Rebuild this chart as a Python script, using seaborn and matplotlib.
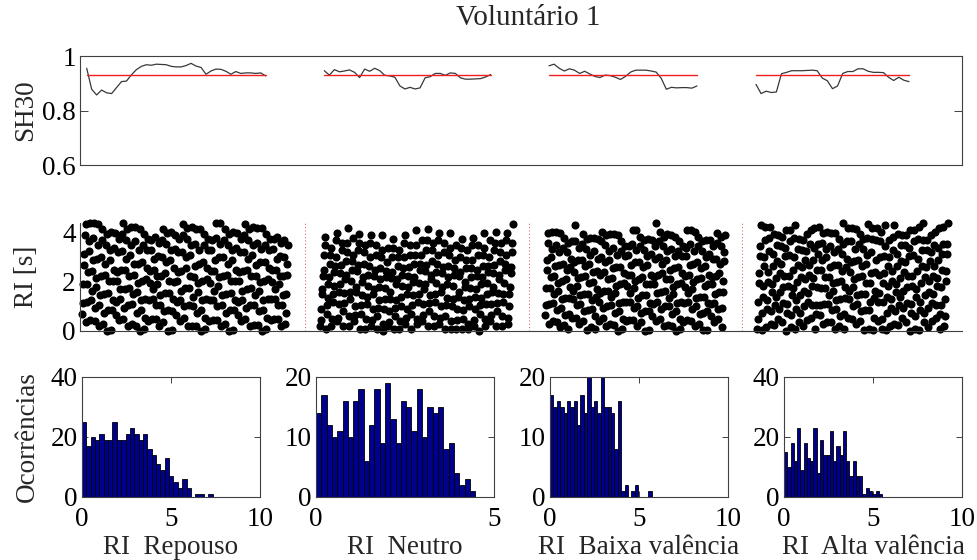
import numpy as np
import pandas as pd
import matplotlib
matplotlib.use("Agg")
import matplotlib.pyplot as plt
import seaborn as sns

sns.set_theme(style="white")
plt.rcParams['font.family'] = ['Liberation Serif', 'DejaVu Serif']

# ---------------- data ----------------
title = "Voluntário 1"
conditions = ["Repouso", "Neutro", "Baixa valência", "Alta valência"]

# SH30 curves (one per condition) and reference levels (red lines)
sh30_repouso = [0.955, 0.878, 0.857, 0.875, 0.865, 0.862, 0.884, 0.906, 0.908, 0.931,
                0.950, 0.962, 0.968, 0.966, 0.970, 0.969, 0.968, 0.962, 0.960, 0.960,
                0.965, 0.973, 0.963, 0.958, 0.933, 0.945, 0.952, 0.951, 0.944, 0.933,
                0.943, 0.936, 0.938, 0.938, 0.936, 0.938, 0.927]
sh30_neutro = [0.946, 0.930, 0.950, 0.942, 0.945, 0.949, 0.940, 0.921, 0.952, 0.944,
               0.955, 0.946, 0.929, 0.927, 0.922, 0.890, 0.879, 0.885, 0.879, 0.883,
               0.920, 0.924, 0.936, 0.936, 0.929, 0.938, 0.936, 0.920, 0.915, 0.915,
               0.916, 0.917, 0.923, 0.932]
sh30_baixa = [0.964, 0.970, 0.955, 0.945, 0.953, 0.948, 0.936, 0.944, 0.934, 0.925,
              0.921, 0.930, 0.928, 0.922, 0.914, 0.925, 0.941, 0.948, 0.948, 0.948,
              0.945, 0.941, 0.918, 0.878, 0.885, 0.883, 0.884, 0.884, 0.882, 0.890]
sh30_alta = [0.896, 0.862, 0.871, 0.866, 0.868, 0.935, 0.940, 0.946, 0.946, 0.946,
             0.947, 0.948, 0.946, 0.919, 0.909, 0.880, 0.890, 0.936, 0.943, 0.943,
             0.953, 0.953, 0.944, 0.940, 0.940, 0.939, 0.922, 0.910, 0.922, 0.911,
             0.906]
sh30_ref = [0.93, 0.93, 0.93, 0.93]

# RI series [s] (points visible in the middle panel)
ri_repouso = [
    0.7,1.15,1.9,2.7,3.15,3.9,4.35, 0.35,1.2,1.9,2.4,3.25,3.65,4.4, 0.45,1.25,1.65,2.45,2.9,3.8,4.4,
    0.4,0.95,1.8,2.15,2.95,3.5,4.35, 0.2,1.05,1.45,2.25,3.0,3.7,4.15, 0.3,0.75,1.5,2.3,2.75,3.5,3.95,
    0.0,0.85,1.55,2.05,2.9,3.3,4.05, 0.05,0.85,1.25,2.05,2.5,3.4,4.0, 0.65,1.2,2.05,2.4,3.2,3.75,
    0.45,1.3,1.7,2.5,3.25,3.95,4.4, 0.5,0.95,1.7,2.5,2.95,3.7,4.15, 0.2,1.05,1.75,2.25,3.1,3.5,4.25,
    0.3,1.1,1.5,2.3,2.75,3.65,4.25, 0.2,0.75,1.6,1.95,2.75,3.3,4.15, 0.0,0.85,1.25,2.05,2.8,3.5,3.95,
    0.1,0.55,1.3,2.1,2.55,3.3,3.75, 0.4,1.25,1.95,2.45,3.3,3.7, 0.5,1.3,1.7,2.5,2.95,3.85,
    0.5,1.05,1.9,2.25,3.05,3.6, 0.2,1.05,1.45,2.25,3.0,3.7,4.15, 0.35,0.8,1.55,2.35,2.8,3.55,4.0,
    0.0,0.85,1.55,2.05,2.9,3.3,4.05, 0.05,0.8,1.3,2.0,2.55,3.35,3.9, 0.65,1.2,2.05,2.4,3.2,3.75,
    0.4,1.25,1.65,2.45,3.2,3.9,4.35, 0.55,1.0,1.75,2.55,3.0,3.75,4.2, 0.2,1.05,1.75,2.25,3.1,3.5,4.25,
    0.2,1.0,1.4,2.2,2.65,3.55,4.15, 0.2,0.75,1.6,1.95,2.75,3.3,4.15, 0.0,0.85,1.25,2.05,2.8,3.5,3.95,
    0.1,0.55,1.3,2.1,2.55,3.3,3.75, 0.4,1.25,1.95,2.45,3.3,3.7, 0.45,1.25,1.65,2.45,2.9,3.8,4.4,
    0.45,1.0,1.85,2.2,3.0,3.55,4.4, 0.2,1.05,1.45,2.25,3.0,3.7,4.15, 0.3,0.75,1.5,2.3,2.75,3.5,3.95,
    0.0,0.85,1.55,2.05,2.9,3.3,4.05, 0.05,0.85,1.25,2.05,2.5,3.4,4.0, 0.65,1.2,2.05,2.4,3.2,3.75,
    0.4,1.25,1.65,2.45,3.2,3.9,4.35, 0.5,0.95,1.7,2.5,2.95,3.7,4.15, 0.2,1.05,1.75,2.25,3.1,3.5,4.25,
    0.25,1.05,1.45,2.25,2.7,3.6,4.2, 0.25,0.8,1.65,2.0,2.8,3.35,4.2, 0.0,0.85,1.25,2.05,2.8,3.5,3.95,
    0.1,0.55,1.3,2.1,2.55,3.3,3.75, 0.45,1.3,2.0,2.5,3.35,3.75, 0.5,1.3,1.7,2.5,2.95,3.85,
    0.5,1.05,1.9,2.25,3.05,3.6, 0.2,1.05,1.45,2.25,3.0,3.7, 0.3,0.75,1.5,2.3,2.75,3.5]
ri_neutro = [
    0.2,0.45,0.9,1.5,1.7,2.25,2.5,3.1,3.5,3.85, 0.1,0.7,1.05,1.35,1.9,2.2,2.75,3.1,3.4,
    0.2,0.5,1.2,1.5,1.85,2.4,2.65,3.0,3.7,4.0, 0.4,0.55,1.1,1.6,1.9,2.35,2.7,3.3,3.6,
    0.2,0.8,1.15,1.55,2.1,2.3,2.85,3.2,3.6,4.2, 0.2,0.6,1.3,1.6,2.05,2.5,2.85,3.1,3.8,
    0.4,0.65,1.0,1.6,1.8,2.45,2.7,3.3,3.6,3.95, 0.1,0.7,1.05,1.45,2.0,2.2,2.75,3.2,3.5,
    0.1,0.5,1.1,1.4,1.85,2.3,2.65,3.0,3.6,3.9, 0.2,0.45,0.9,1.5,1.7,2.25,2.5,3.1,3.5,
    0.1,0.6,0.95,1.25,1.8,2.1,2.55,3.0,3.3,3.9, 0.0,0.3,0.9,1.3,1.75,2.2,2.45,2.8,3.4,
    0.2,0.35,0.8,1.3,1.6,2.15,2.4,3.0,3.4,3.75, 0.1,0.6,0.95,1.25,1.9,2.1,2.65,3.0,3.3,
    0.1,0.4,1.0,1.4,1.85,2.3,2.55,3.0,3.6,3.9, 0.3,0.55,0.9,1.5,1.8,2.25,2.6,3.1,3.5,
    0.1,0.7,1.05,1.45,2.0,2.2,2.75,3.1,3.5,4.1, 0.3,0.5,1.2,1.5,1.95,2.5,2.75,3.1,3.7,
    0.4,0.65,1.1,1.7,1.9,2.45,2.7,3.3,3.7,4.15, 0.2,0.8,1.15,1.45,2.1,2.3,2.85,3.3,3.6,
    0.2,0.6,1.2,1.5,1.95,2.4,2.75,3.1,3.7,4.0, 0.3,0.55,1.0,1.6,1.8,2.35,2.6,3.2,3.6,
    0.1,0.6,1.05,1.35,1.9,2.2,2.65,3.1,3.4,4.0, 0.1,0.4,1.0,1.3,1.85,2.3,2.55,2.9,3.5,
    0.1,0.45,0.9,1.4,1.6,2.25,2.4,3.0,3.4,3.75, 0.1,0.5,0.85,1.25,1.8,2.0,2.55,2.9,3.3,
    0.1,0.3,1.0,1.3,1.75,2.2,2.55,2.9,3.5,3.8, 0.2,0.45,0.9,1.4,1.7,2.25,2.5,3.1,3.5,
    0.0,0.7,1.05,1.35,1.9,2.2,2.65,3.1,3.4,4.0, 0.2,0.5,1.1,1.5,1.95,2.4,2.65,3.0,3.7,
    0.4,0.65,1.1,1.6,1.8,2.35,2.7,3.3,3.6,4.05, 0.2,0.8,1.15,1.55,2.1,2.3,2.85,3.2,3.6,
    0.2,0.6,1.2,1.5,1.95,2.5,2.75,3.1,3.7,4.0, 0.3,0.55,1.0,1.5,1.8,2.35,2.6,3.2,3.6,4.35]
ri_baixa = [
    0.65,1.05,1.75,2.5,2.9,3.6,4.0, 0.3,1.1,1.75,2.2,3.0,3.35,4.05, 0.4,1.15,1.5,2.25,2.65,3.5,4.05,
    0.35,0.85,1.65,1.95,2.7,3.2,4.0, 0.15,0.95,1.3,2.05,2.75,3.4,3.8, 0.25,0.65,1.35,2.1,2.5,3.2,3.6,
    0.1,0.7,1.35,1.8,2.6,2.95,3.65, 0.55,1.3,1.65,2.4,2.8,3.65,4.3, 0.55,1.05,1.85,2.15,2.9,3.4,
    0.3,1.1,1.45,2.2,2.9,3.55,3.95, 0.4,0.8,1.5,2.25,2.65,3.35,3.75, 0.05,0.85,1.5,1.95,2.75,3.1,3.8,
    0.15,0.9,1.25,2.0,2.4,3.25,3.8, 0.1,0.6,1.4,1.7,2.45,2.95,3.75, 0.4,1.2,1.55,2.3,3.0,3.65,4.05,
    0.55,0.95,1.65,2.4,2.8,3.5,3.9, 0.2,1.0,1.65,2.1,2.9,3.25,3.95, 0.3,1.05,1.4,2.15,2.55,3.4,3.95,
    0.25,0.75,1.55,1.85,2.6,3.1,3.9, 0.0,0.8,1.15,1.9,2.6,3.25,3.65, 0.1,0.5,1.2,1.95,2.35,3.05,3.45,
    0.4,1.2,1.85,2.3,3.1,3.45, 0.45,1.2,1.55,2.3,2.7,3.55,4.1, 0.45,0.95,1.75,2.05,2.8,3.3,4.1,
    0.2,1.0,1.35,2.1,2.8,3.45,3.85, 0.35,0.75,1.45,2.2,2.6,3.3,3.7, 0.0,0.8,1.45,1.9,2.7,3.05,3.75,
    0.05,0.8,1.15,1.9,2.3,3.15,3.7, 0.6,1.1,1.9,2.2,2.95,3.45,4.4, 0.4,1.2,1.55,2.3,3.0,3.65,4.05,
    0.5,0.9,1.6,2.35,2.75,3.45,3.85, 0.2,1.0,1.65,2.1,2.9,3.25,3.95, 0.25,1.0,1.35,2.1,2.5,3.35,3.9,
    0.2,0.7,1.5,1.8,2.55,3.05,3.85, 0.0,0.8,1.15,1.9,2.6,3.25,3.65, 0.1,0.5,1.2,1.95,2.35,3.05,3.45,
    0.35,1.15,1.8,2.25,3.05,3.4,4.1, 0.45,1.2,1.55,2.3,2.7,3.55,4.1, 0.4,0.9,1.7,2.0,2.75,3.25,4.05,
    0.2,1.0,1.35,2.1,2.8,3.45,3.85, 0.3,0.7,1.4,2.15,2.55,3.25,3.65, 0.05,0.75,1.4,1.85,2.65,3.0,3.7,
    0.05,0.8,1.15,1.9,2.3,3.15,3.7, 0.6,1.1,1.9,2.2,2.95,3.45, 0.35,1.15,1.5,2.25,2.95,3.6,4.0,
    0.5,0.9,1.6,2.35,2.75,3.45,3.85, 0.15,0.95,1.6,2.05,2.85,3.2,3.9]
ri_alta = [
    0.1,0.5,1.2,1.95,2.35,3.05,3.45,4.3, 0.05,0.75,1.4,1.85,2.65,3.0,3.7,4.25,
    0.15,0.9,1.25,2.0,2.4,3.25,3.8,4.25, 0.3,0.8,1.6,1.9,2.65,3.15,3.95,
    0.25,1.05,1.4,2.15,2.85,3.5,3.9, 0.5,0.9,1.6,2.35,2.75,3.45,3.85,
    0.35,1.15,1.8,2.25,3.05,3.4,4.1, 0.0,0.75,1.1,1.85,2.25,3.1,3.65,4.1,
    0.15,0.65,1.45,1.75,2.5,3.0,3.8,4.3, 0.1,0.9,1.25,2.0,2.7,3.35,3.75,
    0.35,0.75,1.45,2.2,2.6,3.3,3.7, 0.2,1.0,1.65,2.1,2.9,3.25,3.95,
    0.45,1.2,1.55,2.3,2.7,3.55,4.1, 0.55,1.05,1.85,2.15,2.9,3.4,4.2,
    0.1,0.7,1.05,1.8,2.5,3.15,3.55,4.25, 0.65,1.05,1.75,2.5,2.9,3.6,4.0,
    0.3,1.1,1.75,2.2,3.0,3.35,4.05, 0.35,1.1,1.45,2.2,2.6,3.45,4.0,
    0.35,0.85,1.65,1.95,2.7,3.2,4.0, 0.1,0.9,1.25,2.0,2.7,3.35,3.75,
    0.2,0.6,1.3,2.05,2.45,3.15,3.55,4.4, 0.1,0.7,1.35,1.8,2.6,2.95,3.65,4.2,
    0.55,1.3,1.65,2.4,2.8,3.65,4.2, 0.5,1.0,1.8,2.1,2.85,3.35,4.15,
    0.3,1.1,1.45,2.2,2.9,3.55,3.95, 0.4,0.8,1.5,2.25,2.65,3.35,3.75,
    0.05,0.85,1.5,1.95,2.75,3.1,3.8,4.35, 0.1,0.85,1.2,1.95,2.35,3.2,3.75,4.2,
    0.05,0.55,1.35,1.65,2.4,2.9,3.7,4.2, 0.4,1.2,1.55,2.3,3.0,3.65,4.05,
    0.1,0.5,1.2,1.95,2.35,3.05,3.45,4.3, 0.05,0.75,1.4,1.85,2.65,3.0,3.7,
    0.2,0.95,1.3,2.05,2.45,3.3,3.85,4.3, 0.3,0.8,1.6,1.9,2.65,3.15,3.95,
    0.25,1.05,1.4,2.15,2.85,3.5,3.9, 0.55,0.95,1.65,2.4,2.8,3.5,3.9,
    0.35,1.15,1.8,2.25,3.05,3.4,4.1, 0.0,0.75,1.1,1.85,2.25,3.1,3.65,4.1,
    0.1,0.6,1.4,1.7,2.45,2.95,3.75,4.25, 0.05,0.85,1.2,1.95,2.65,3.3,3.7,4.4,
    0.35,0.75,1.45,2.2,2.6,3.3,3.7, 0.15,0.95,1.6,2.05,2.85,3.2,3.9,
    0.4,1.15,1.5,2.25,2.65,3.5,4.05, 0.55,1.05,1.85,2.15,2.9,3.4,4.2,
    0.1,0.7,1.05,1.8,2.5,3.15,3.55,4.25, 0.2,0.6,1.3,2.05,2.45,3.15,3.55,4.4]

# Histogram counts (30 bins each), the RI range they cover [s] and axis ticks
hist_repouso = [25,17,20,19,21,19,19,25,19,19,21,23,21,19,21,16,14,11,9,13,7,5,3,6,3,0,1,1,0,1]
hist_neutro = [14,17,12,10,11,16,10,16,18,6,12,18,9,19,13,9,16,15,11,18,10,15,14,15,8,9,4,2,3,1]
hist_baixa = [17,15,16,15,14,16,15,16,12,17,14,20,15,16,14,20,15,15,14,8,16,1,2,0,1,2,0,0,0,1]
hist_alta = [15,10,18,12,23,9,18,13,12,23,8,19,14,14,22,12,17,14,22,12,7,12,7,7,1,3,2,1,2,1]
hist_max_ri = [7.34, 4.47, 5.71, 5.51]
hist_xticks = [[0, 5, 10], [0, 5], [0, 5, 10], [0, 5, 10]]
hist_yticks = [[0, 20, 40], [0, 10, 20], [0, 10, 20], [0, 20, 40]]

# ---------------- layout ----------------
W, H = 977, 560
fig = plt.figure(figsize=(W / 100, H / 100), dpi=100)

def fr(x0, y0, x1, y1):
    return [x0 / W, 1 - y1 / H, (x1 - x0) / W, (y1 - y0) / H]

FS = 19.5
LINE_C = "#383838"
SPINE_C = "#404040"
RED = "#f01e1e"
BAR_C = "#00008F"

sh30_series = [sh30_repouso, sh30_neutro, sh30_baixa, sh30_alta]
ri_series = [ri_repouso, ri_neutro, ri_baixa, ri_alta]
hist_series = [hist_repouso, hist_neutro, hist_baixa, hist_alta]

# horizontal spans (fraction of panel width) of each condition
top_spans = [(0.0076, 0.2105), (0.2770, 0.4656), (0.5317, 0.6995), (0.7664, 0.9399)]
sc_spans = [(0.0023, 0.2358), (0.2721, 0.4909), (0.5272, 0.7313), (0.7676, 0.9841)]
separators = [0.2551, 0.5091, 0.7506]

# ---- top panel: SH30 ----
ax1 = fig.add_axes(fr(80, 56, 962, 165))
for vals, ref, (s0, s1), cond in zip(sh30_series, sh30_ref, top_spans, conditions):
    d = pd.DataFrame({"t": np.linspace(s0, s1, len(vals)), "sh30": vals})
    sns.lineplot(data=d, x="t", y="sh30", ax=ax1, color=LINE_C, lw=0.9, estimator=None)
    r = pd.DataFrame({"t": [s0, s1], "sh30": [ref, ref]})
    sns.lineplot(data=r, x="t", y="sh30", ax=ax1, color=RED, lw=1.0, estimator=None)
ax1.set_xlim(0, 1)
ax1.set_ylim(0.6, 1.0)
ax1.set_xticks([])
ax1.set_yticks([0.6, 0.8, 1.0])
ax1.set_yticklabels(["0.6", "0.8", "1"])
ax1.set_xlabel("")
ax1.set_ylabel("SH30", fontsize=FS)
ax1.yaxis.set_label_coords(-0.047, 0.5)
ax1.tick_params(axis="y", direction="in", length=6, width=0.7, colors=SPINE_C,
                labelcolor="black", labelsize=FS, left=True, right=True, pad=3)
for sp in ax1.spines.values():
    sp.set_color(SPINE_C)
    sp.set_linewidth(0.8)

# ---- middle panel: RI scatter ----
ax2 = fig.add_axes(fr(80, 223, 962, 331))
frames = []
for vals, (s0, s1), cond in zip(ri_series, sc_spans, conditions):
    frames.append(pd.DataFrame({"t": np.linspace(s0, s1, len(vals)), "ri": vals, "cond": cond}))
sc = pd.concat(frames, ignore_index=True)
sns.scatterplot(data=sc, x="t", y="ri", ax=ax2, color="black", s=34, linewidth=0,
                legend=False, clip_on=False)
for xs in separators:
    ax2.axvline(xs, color="#e87070", lw=0.8, ls=(0, (1, 2)))
ax2.set_xlim(0, 1)
ax2.set_ylim(0, 4.4)
ax2.set_xticks([])
ax2.set_yticks([0, 2, 4])
ax2.set_yticklabels(["0", "2", "4"])
ax2.set_xlabel("")
ax2.set_ylabel("RI [s]", fontsize=FS)
ax2.yaxis.set_label_coords(-0.047, 0.5)
ax2.tick_params(axis="y", direction="in", length=6, width=0.7, colors=SPINE_C,
                labelcolor="black", labelsize=FS, pad=3)
ax2.spines["top"].set_visible(False)
ax2.spines["right"].set_visible(False)
for k in ("left", "bottom"):
    ax2.spines[k].set_color(SPINE_C)
    ax2.spines[k].set_linewidth(0.8)

# ---- bottom panels: histograms ----
hist_left = [82, 316, 550, 784]
for i, (counts, rmax, xt, yt, cond, xl) in enumerate(
        zip(hist_series, hist_max_ri, hist_xticks, hist_yticks, conditions, hist_left)):
    ax = fig.add_axes(fr(xl, 377, xl + 178, 497))
    edges = np.linspace(0, rmax, len(counts) + 1)
    hd = pd.DataFrame({"ri": (edges[:-1] + edges[1:]) / 2, "n": counts})
    sns.histplot(data=hd, x="ri", weights="n", bins=len(counts), binrange=(0, rmax),
                 ax=ax, color=BAR_C, edgecolor="black", linewidth=0.6, alpha=1.0)
    ax.set_xlim(xt[0], xt[-1])
    ax.set_ylim(yt[0], yt[-1])
    ax.set_xticks(xt)
    ax.set_xticklabels([str(v) for v in xt])
    ax.set_yticks(yt)
    ax.set_yticklabels([str(v) for v in yt])
    ax.set_xlabel("RI  " + cond, fontsize=FS)
    ax.xaxis.set_label_coords(0.5, -0.32)
    if i == 0:
        ax.set_ylabel("Ocorrências", fontsize=FS)
        ax.yaxis.set_label_coords(-0.235, 0.5)
    else:
        ax.set_ylabel("")
    ax.tick_params(direction="in", length=4, width=0.7, colors=SPINE_C,
                   labelcolor="black", labelsize=FS, top=True, right=True,
                   bottom=True, left=True)
    ax.tick_params(axis="x", pad=7)
    ax.tick_params(axis="y", pad=3)
    for sp in ax.spines.values():
        sp.set_color(SPINE_C)
        sp.set_linewidth(0.8)

fig.text(528 / W, 1 - 18 / H, title, ha="center", va="center", fontsize=FS + 1.5)

fig.savefig("out.png", dpi=100)
